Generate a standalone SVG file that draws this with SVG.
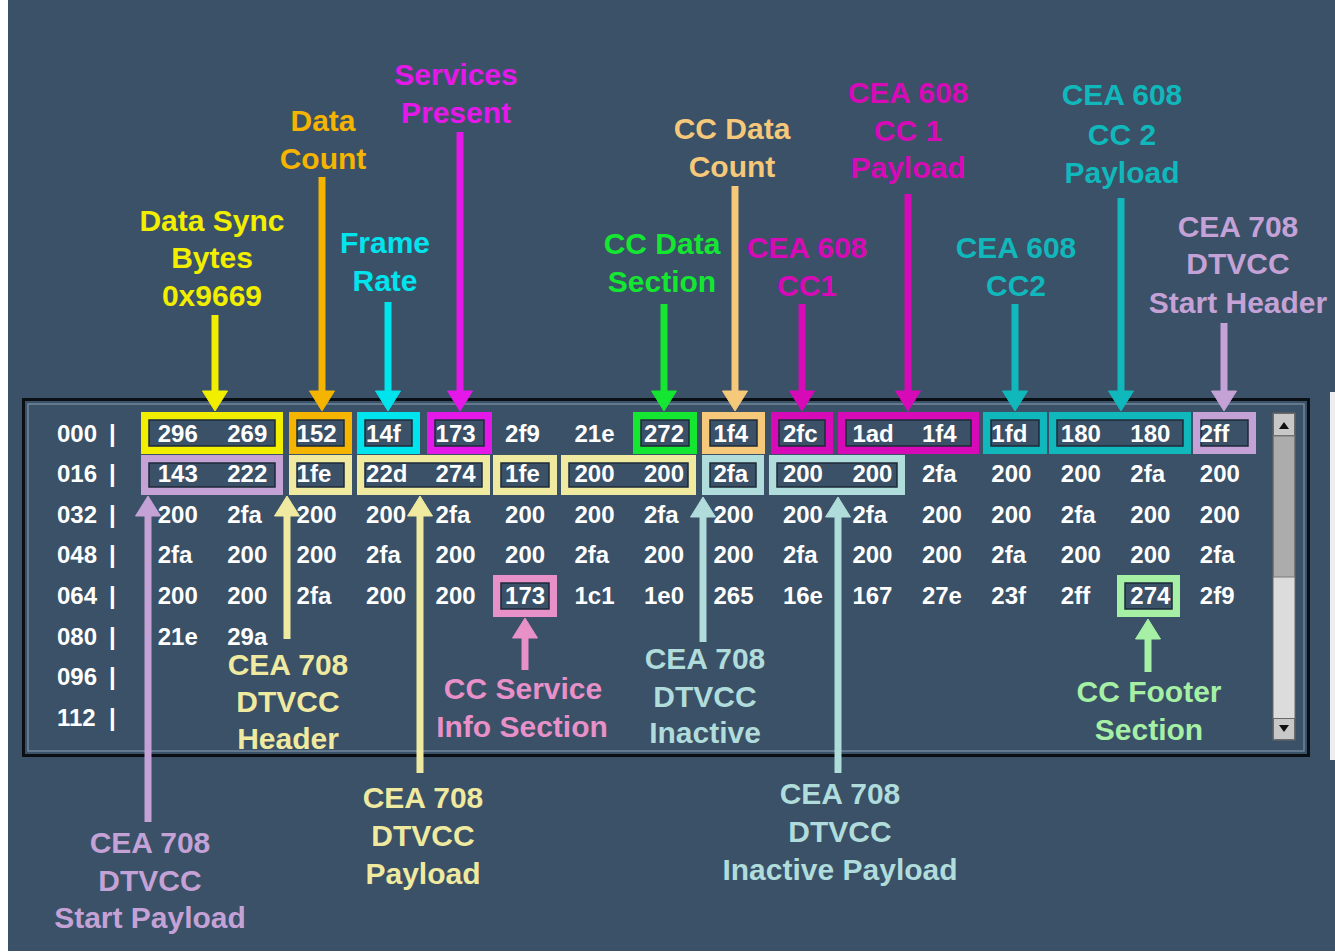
<svg xmlns="http://www.w3.org/2000/svg" width="1335" height="952" viewBox="0 0 1335 952">
<style>
.cell{font-family:"Liberation Sans",Arial,sans-serif;font-weight:bold;font-size:24px;fill:#ffffff}
.lbl{font-family:"Liberation Sans",Arial,sans-serif;font-weight:bold;font-size:30px;text-anchor:middle}
.box{fill:none;stroke-width:8}
.inner{fill:none;stroke:#1c2a38;stroke-width:1.5}
.shaft{stroke-width:7;fill:none}
.yel{stroke:#f2ee00;fill:#f2ee00}
.org{stroke:#f4b400;fill:#f4b400}
.cya{stroke:#00e4ee;fill:#00e4ee}
.mag{stroke:#e418e8;fill:#e418e8}
.grn{stroke:#14e632;fill:#14e632}
.lor{stroke:#f6c87a;fill:#f6c87a}
.pnk{stroke:#d60ab6;fill:#d60ab6}
.tea{stroke:#10b8bc;fill:#10b8bc}
.lav{stroke:#c4a2d6;fill:#c4a2d6}
.pyl{stroke:#f0eaa0;fill:#f0eaa0}
.pcy{stroke:#b0dcdc;fill:#b0dcdc}
.spk{stroke:#e890c8;fill:#e890c8}
.lgr{stroke:#a6f0a6;fill:#a6f0a6}
.box.yel,.box.org,.box.cya,.box.mag,.box.grn,.box.lor,.box.pnk,.box.tea,.box.lav,.box.pyl,.box.pcy,.box.spk,.box.lgr{fill:none}
.lbl.yel,.lbl.org,.lbl.cya,.lbl.mag,.lbl.grn,.lbl.lor,.lbl.pnk,.lbl.tea,.lbl.lav,.lbl.pyl,.lbl.pcy,.lbl.spk,.lbl.lgr{stroke:none}
polygon{stroke:none}
</style>
<rect x="0" y="0" width="1335" height="952" fill="#ffffff"/>
<rect x="8" y="0" width="1327" height="951" fill="#3a5167"/>
<rect x="1330" y="392" width="5" height="368" fill="#eeeeee"/>

<g id="panel">
  <rect x="23.5" y="399.5" width="1285" height="356" fill="#3a5167" stroke="#0a0f14" stroke-width="3"/>
  <rect x="28" y="404" width="1276" height="347" fill="none" stroke="#70869c" stroke-width="1.5"/>
</g>

<g id="scrollbar">
  <rect x="1273" y="413" width="22" height="327" fill="#dcdcdc" stroke="#6a6a6a" stroke-width="1"/>
  <rect x="1273.5" y="413.5" width="21" height="22" fill="#c8c8c8" stroke="#6a6a6a" stroke-width="1"/>
  <polygon points="1279,429 1289,429 1284,422" fill="#111"/>
  <rect x="1273.5" y="436" width="21" height="141" fill="#acacac" stroke="#7a7a7a" stroke-width="1"/>
  <rect x="1273.5" y="718.5" width="21" height="21" fill="#c8c8c8" stroke="#6a6a6a" stroke-width="1"/>
  <polygon points="1279,725 1289,725 1284,732" fill="#111"/>
</g>

<g id="row-labels" class="cell">
  <text x="57" y="441.5">000</text><text x="109" y="441.5">|</text>
  <text x="57" y="482.1">016</text><text x="109" y="482.1">|</text>
  <text x="57" y="522.7">032</text><text x="109" y="522.7">|</text>
  <text x="57" y="563.3">048</text><text x="109" y="563.3">|</text>
  <text x="57" y="603.9">064</text><text x="109" y="603.9">|</text>
  <text x="57" y="644.5">080</text><text x="109" y="644.5">|</text>
  <text x="57" y="685.1">096</text><text x="109" y="685.1">|</text>
  <text x="57" y="725.7">112</text><text x="109" y="725.7">|</text>
</g>

<g id="highlight-boxes">
  <g id="box-sync"><rect class="box yel" x="145" y="416" width="134" height="34"/><rect class="inner" x="149" y="420" width="126" height="26"/></g>
  <g id="box-datacount"><rect class="box org" x="293" y="416" width="55" height="34"/><rect class="inner" x="297" y="420" width="47" height="26"/></g>
  <g id="box-framerate"><rect class="box cya" x="361" y="416" width="55" height="34"/><rect class="inner" x="365" y="420" width="47" height="26"/></g>
  <g id="box-services"><rect class="box mag" x="431" y="416" width="57" height="34"/><rect class="inner" x="435" y="420" width="49" height="26"/></g>
  <g id="box-ccsection"><rect class="box grn" x="637" y="416" width="56" height="34"/><rect class="inner" x="641" y="420" width="48" height="26"/></g>
  <g id="box-cccount"><rect class="box lor" x="706" y="416" width="55" height="34"/><rect class="inner" x="710" y="420" width="47" height="26"/></g>
  <g id="box-cc1"><rect class="box pnk" x="775" y="416" width="54" height="34"/><rect class="inner" x="779" y="420" width="46" height="26"/></g>
  <g id="box-cc1payload"><rect class="box pnk" x="842" y="416" width="133" height="34"/><rect class="inner" x="846" y="420" width="125" height="26"/></g>
  <g id="box-cc2"><rect class="box tea" x="987" y="416" width="56" height="34"/><rect class="inner" x="991" y="420" width="48" height="26"/></g>
  <g id="box-cc2payload"><rect class="box tea" x="1053" y="416" width="134" height="34"/><rect class="inner" x="1057" y="420" width="126" height="26"/></g>
  <g id="box-startheader"><rect class="box lav" x="1197" y="416" width="55" height="34"/><rect class="inner" x="1201" y="420" width="47" height="26"/></g>

  <g id="box-startpayload"><rect class="box lav" x="145" y="459" width="134" height="32"/><rect class="inner" x="149" y="463" width="126" height="24"/></g>
  <g id="box-dtvccheader"><rect class="box pyl" x="293" y="459" width="55" height="32"/><rect class="inner" x="297" y="463" width="47" height="24"/></g>
  <g id="box-dtvccpayload1"><rect class="box pyl" x="361" y="459" width="125" height="32"/><rect class="inner" x="365" y="463" width="117" height="24"/></g>
  <g id="box-dtvccpayload2"><rect class="box pyl" x="497" y="459" width="56" height="32"/><rect class="inner" x="501" y="463" width="48" height="24"/></g>
  <g id="box-dtvccpayload3"><rect class="box pyl" x="565" y="459" width="127" height="32"/><rect class="inner" x="569" y="463" width="119" height="24"/></g>
  <g id="box-inactive"><rect class="box pcy" x="706" y="459" width="54" height="32"/><rect class="inner" x="710" y="463" width="46" height="24"/></g>
  <g id="box-inactivepayload"><rect class="box pcy" x="773" y="459" width="128" height="32"/><rect class="inner" x="777" y="463" width="120" height="24"/></g>

  <g id="box-serviceinfo"><rect class="box spk" x="497" y="579" width="56" height="34"/><rect class="inner" x="501" y="583" width="48" height="26"/></g>
  <g id="box-footer"><rect class="box lgr" x="1121" y="579" width="55" height="34"/><rect class="inner" x="1125" y="583" width="47" height="26"/></g>
</g>

<g id="table-values" class="cell">
  <text y="441.5"><tspan x="157.7">296</tspan><tspan x="227.2">269</tspan><tspan x="296.6">152</tspan><tspan x="366.1">14f</tspan><tspan x="435.6">173</tspan><tspan x="505.1">2f9</tspan><tspan x="574.5">21e</tspan><tspan x="644.0">272</tspan><tspan x="713.5">1f4</tspan><tspan x="782.9">2fc</tspan><tspan x="852.4">1ad</tspan><tspan x="921.9">1f4</tspan><tspan x="991.3">1fd</tspan><tspan x="1060.8">180</tspan><tspan x="1130.3">180</tspan><tspan x="1199.8">2ff</tspan></text>
  <text y="482.1"><tspan x="157.7">143</tspan><tspan x="227.2">222</tspan><tspan x="296.6">1fe</tspan><tspan x="366.1">22d</tspan><tspan x="435.6">274</tspan><tspan x="505.1">1fe</tspan><tspan x="574.5">200</tspan><tspan x="644.0">200</tspan><tspan x="713.5">2fa</tspan><tspan x="782.9">200</tspan><tspan x="852.4">200</tspan><tspan x="921.9">2fa</tspan><tspan x="991.3">200</tspan><tspan x="1060.8">200</tspan><tspan x="1130.3">2fa</tspan><tspan x="1199.8">200</tspan></text>
  <text y="522.7"><tspan x="157.7">200</tspan><tspan x="227.2">2fa</tspan><tspan x="296.6">200</tspan><tspan x="366.1">200</tspan><tspan x="435.6">2fa</tspan><tspan x="505.1">200</tspan><tspan x="574.5">200</tspan><tspan x="644.0">2fa</tspan><tspan x="713.5">200</tspan><tspan x="782.9">200</tspan><tspan x="852.4">2fa</tspan><tspan x="921.9">200</tspan><tspan x="991.3">200</tspan><tspan x="1060.8">2fa</tspan><tspan x="1130.3">200</tspan><tspan x="1199.8">200</tspan></text>
  <text y="563.3"><tspan x="157.7">2fa</tspan><tspan x="227.2">200</tspan><tspan x="296.6">200</tspan><tspan x="366.1">2fa</tspan><tspan x="435.6">200</tspan><tspan x="505.1">200</tspan><tspan x="574.5">2fa</tspan><tspan x="644.0">200</tspan><tspan x="713.5">200</tspan><tspan x="782.9">2fa</tspan><tspan x="852.4">200</tspan><tspan x="921.9">200</tspan><tspan x="991.3">2fa</tspan><tspan x="1060.8">200</tspan><tspan x="1130.3">200</tspan><tspan x="1199.8">2fa</tspan></text>
  <text y="603.9"><tspan x="157.7">200</tspan><tspan x="227.2">200</tspan><tspan x="296.6">2fa</tspan><tspan x="366.1">200</tspan><tspan x="435.6">200</tspan><tspan x="505.1">173</tspan><tspan x="574.5">1c1</tspan><tspan x="644.0">1e0</tspan><tspan x="713.5">265</tspan><tspan x="782.9">16e</tspan><tspan x="852.4">167</tspan><tspan x="921.9">27e</tspan><tspan x="991.3">23f</tspan><tspan x="1060.8">2ff</tspan><tspan x="1130.3">274</tspan><tspan x="1199.8">2f9</tspan></text>
  <text y="644.5"><tspan x="157.7">21e</tspan><tspan x="227.2">29a</tspan></text>
</g>

<g id="connectors">
  <line class="shaft yel" x1="215" y1="315" x2="215" y2="393"/><polygon class="yel" points="202.5,391 227.5,391 215,411"/>
  <line class="shaft org" x1="322" y1="177" x2="322" y2="393"/><polygon class="org" points="309.5,391 334.5,391 322,411"/>
  <line class="shaft cya" x1="388" y1="302" x2="388" y2="393"/><polygon class="cya" points="375.5,391 400.5,391 388,411"/>
  <line class="shaft mag" x1="460" y1="132" x2="460" y2="393"/><polygon class="mag" points="447.5,391 472.5,391 460,411"/>
  <line class="shaft grn" x1="664" y1="304" x2="664" y2="393"/><polygon class="grn" points="651.5,391 676.5,391 664,411"/>
  <line class="shaft lor" x1="735" y1="186" x2="735" y2="393"/><polygon class="lor" points="722.5,391 747.5,391 735,411"/>
  <line class="shaft pnk" x1="802" y1="304" x2="802" y2="393"/><polygon class="pnk" points="789.5,391 814.5,391 802,411"/>
  <line class="shaft pnk" x1="908" y1="194" x2="908" y2="393"/><polygon class="pnk" points="895.5,391 920.5,391 908,411"/>
  <line class="shaft tea" x1="1015" y1="304" x2="1015" y2="393"/><polygon class="tea" points="1002.5,391 1027.5,391 1015,411"/>
  <line class="shaft tea" x1="1121" y1="198" x2="1121" y2="393"/><polygon class="tea" points="1108.5,391 1133.5,391 1121,411"/>
  <line class="shaft lav" x1="1224" y1="323" x2="1224" y2="393"/><polygon class="lav" points="1211.5,391 1236.5,391 1224,411"/>

  <line class="shaft lav" x1="148" y1="514" x2="148" y2="822"/><polygon class="lav" points="135.5,516 160.5,516 148,496"/>
  <line class="shaft pyl" x1="287" y1="514" x2="287" y2="639"/><polygon class="pyl" points="274.5,516 299.5,516 287,496"/>
  <line class="shaft pyl" x1="420" y1="514" x2="420" y2="773"/><polygon class="pyl" points="407.5,516 432.5,516 420,496"/>
  <line class="shaft spk" x1="525" y1="636" x2="525" y2="670"/><polygon class="spk" points="512.5,638 537.5,638 525,618"/>
  <line class="shaft pcy" x1="703" y1="515" x2="703" y2="642"/><polygon class="pcy" points="690.5,517 715.5,517 703,497"/>
  <line class="shaft pcy" x1="838" y1="515" x2="838" y2="773"/><polygon class="pcy" points="825.5,517 850.5,517 838,497"/>
  <line class="shaft lgr" x1="1148" y1="637" x2="1148" y2="672"/><polygon class="lgr" points="1135.5,639 1160.5,639 1148,619"/>
</g>

<g id="label-sync"><text class="lbl yel"><tspan x="212" y="231">Data Sync</tspan><tspan x="212" y="268">Bytes</tspan><tspan x="212" y="306">0x9669</tspan></text></g>
<g id="label-datacount"><text class="lbl org"><tspan x="323" y="131">Data</tspan><tspan x="323" y="169">Count</tspan></text></g>
<g id="label-framerate"><text class="lbl cya"><tspan x="385" y="253">Frame</tspan><tspan x="385" y="291">Rate</tspan></text></g>
<g id="label-services"><text class="lbl mag"><tspan x="456" y="85">Services</tspan><tspan x="456" y="123">Present</tspan></text></g>
<g id="label-ccsection"><text class="lbl grn"><tspan x="662" y="254">CC Data</tspan><tspan x="662" y="292">Section</tspan></text></g>
<g id="label-cccount"><text class="lbl lor"><tspan x="732" y="139">CC Data</tspan><tspan x="732" y="177">Count</tspan></text></g>
<g id="label-cc1"><text class="lbl pnk"><tspan x="807" y="258">CEA 608</tspan><tspan x="807" y="296">CC1</tspan></text></g>
<g id="label-cc1payload"><text class="lbl pnk"><tspan x="908" y="103">CEA 608</tspan><tspan x="908" y="141">CC 1</tspan><tspan x="908" y="178">Payload</tspan></text></g>
<g id="label-cc2"><text class="lbl tea"><tspan x="1016" y="258">CEA 608</tspan><tspan x="1016" y="296">CC2</tspan></text></g>
<g id="label-cc2payload"><text class="lbl tea"><tspan x="1122" y="105">CEA 608</tspan><tspan x="1122" y="145">CC 2</tspan><tspan x="1122" y="183">Payload</tspan></text></g>
<g id="label-startheader"><text class="lbl lav"><tspan x="1238" y="237">CEA 708</tspan><tspan x="1238" y="274">DTVCC</tspan><tspan x="1238" y="313">Start Header</tspan></text></g>

<g id="label-header"><text class="lbl pyl"><tspan x="288" y="675">CEA 708</tspan><tspan x="288" y="712">DTVCC</tspan><tspan x="288" y="749">Header</tspan></text></g>
<g id="label-serviceinfo"><text class="lbl spk"><tspan x="523" y="699">CC Service</tspan><tspan x="522" y="737">Info Section</tspan></text></g>
<g id="label-inactive"><text class="lbl pcy"><tspan x="705" y="669">CEA 708</tspan><tspan x="705" y="707">DTVCC</tspan><tspan x="705" y="743">Inactive</tspan></text></g>
<g id="label-footer"><text class="lbl lgr"><tspan x="1149" y="702">CC Footer</tspan><tspan x="1149" y="740">Section</tspan></text></g>
<g id="label-payload"><text class="lbl pyl"><tspan x="423" y="808">CEA 708</tspan><tspan x="423" y="846">DTVCC</tspan><tspan x="423" y="884">Payload</tspan></text></g>
<g id="label-startpayload"><text class="lbl lav"><tspan x="150" y="853">CEA 708</tspan><tspan x="150" y="891">DTVCC</tspan><tspan x="150" y="928">Start Payload</tspan></text></g>
<g id="label-inactivepayload"><text class="lbl pcy"><tspan x="840" y="804">CEA 708</tspan><tspan x="840" y="842">DTVCC</tspan><tspan x="840" y="880">Inactive Payload</tspan></text></g>
</svg>
